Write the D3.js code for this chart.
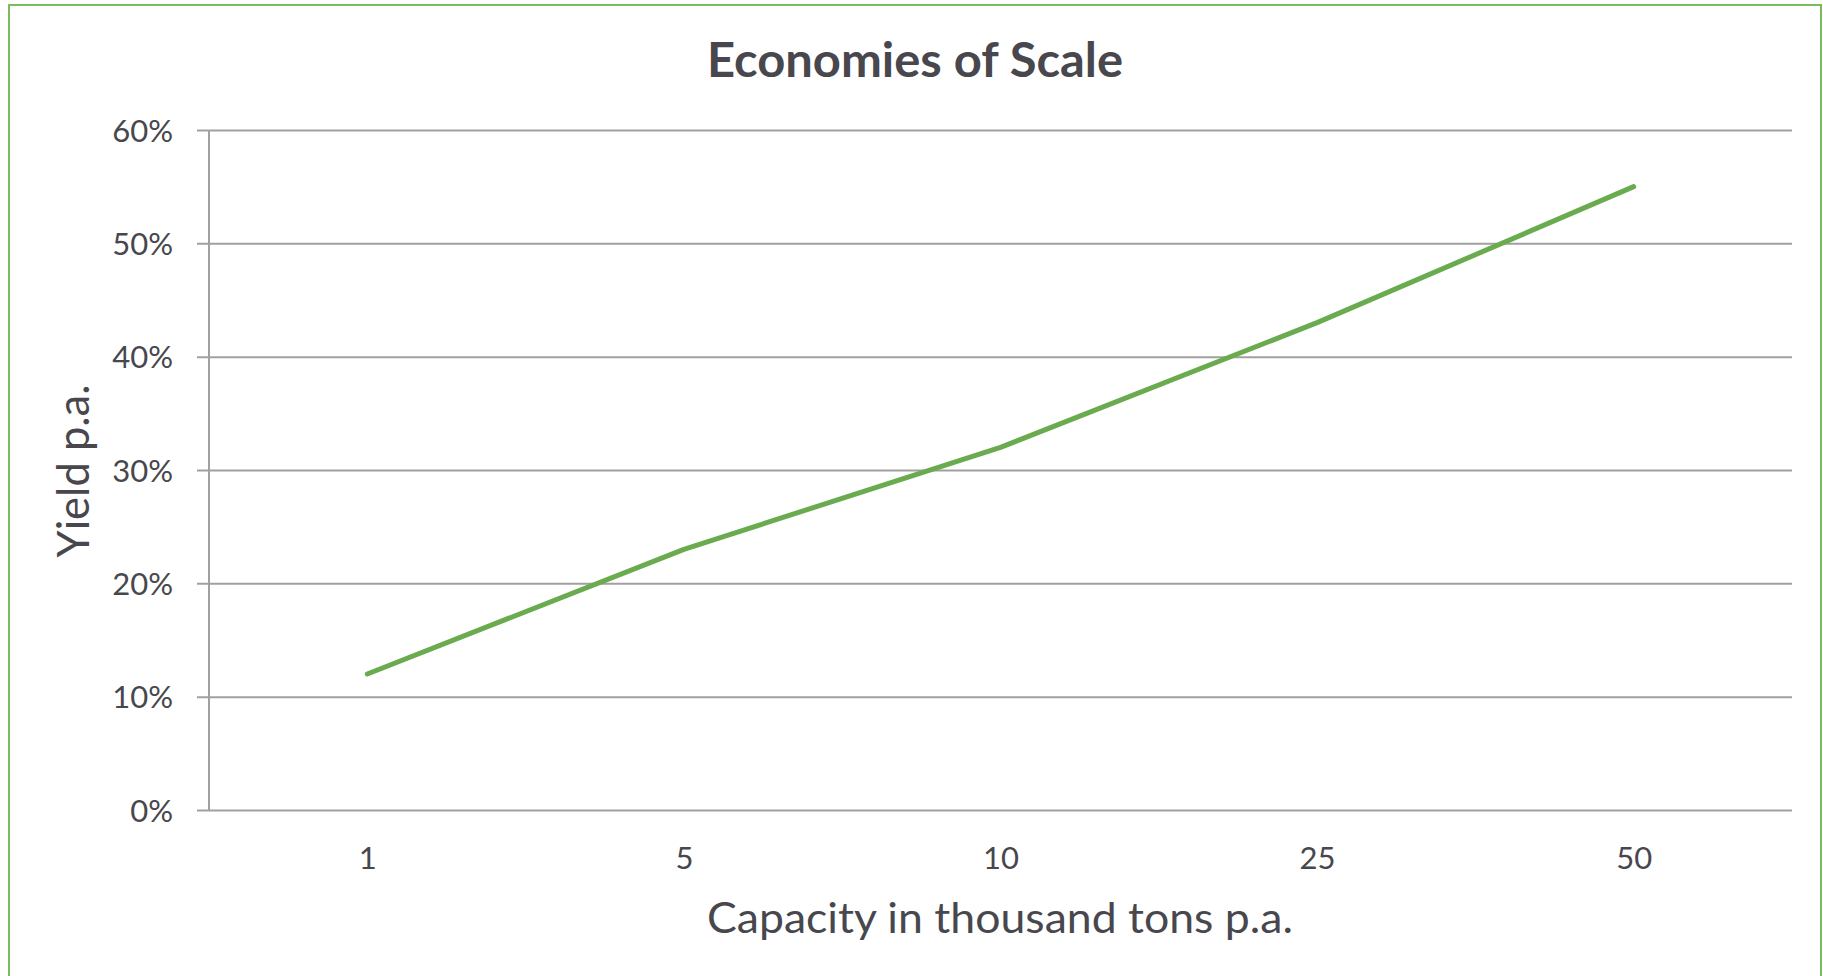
<!DOCTYPE html>
<html>
<head>
<meta charset="utf-8">
<script src="https://cdn.jsdelivr.net/npm/d3@7"></script>
<style>
  html, body { margin: 0; padding: 0; background: #ffffff; }
  svg { display: block; }
  text { font-family: Lato, "Open Sans", "Noto Sans", sans-serif; }
</style>
</head>
<body>
<svg id="chart" width="1823" height="976"></svg>
<script>
// Capacity categories (thousand tons p.a.) and the yield at each
const capacities = ["1", "5", "10", "25", "50"];
const yields = [0.12, 0.23, 0.32, 0.43, 0.55];
const yTicks = [0, 0.1, 0.2, 0.3, 0.4, 0.5, 0.6];

const W = 1823, H = 976;
const plot = { left: 209, right: 1792, top: 130, bottom: 810 };
const textColor = "#48474d";
const gridColor = "#a0a0a0";
const lineColor = "#6aab4f";

const svg = d3.select("#chart");

// outer frame of the chart area
svg.append("rect")
  .attr("x", 9).attr("y", 5)
  .attr("width", 1812).attr("height", 1000)
  .attr("fill", "#ffffff")
  .attr("stroke", "#7cbc5c")
  .attr("stroke-width", 2);

const x = d3.scalePoint()
  .domain(capacities)
  .range([plot.left, plot.right])
  .padding(0.5);

const y = d3.scaleLinear()
  .domain([0, 0.6])
  .range([plot.bottom, plot.top]);

// horizontal gridlines + y tick labels
const yAxis = d3.axisLeft(y)
  .tickValues(yTicks)
  .tickFormat(d3.format(".0%"))
  .tickSize(-(plot.right - plot.left))
  .tickPadding(36);

const gy = svg.append("g")
  .attr("transform", `translate(${plot.left},0)`)
  .call(yAxis);
gy.select(".domain").remove();
gy.selectAll(".tick line")
  .attr("x1", -12)
  .attr("stroke", gridColor)
  .attr("stroke-width", 2);
gy.selectAll(".tick text")
  .attr("fill", textColor)
  .attr("font-size", 31)
  .attr("x", -36)
  .attr("dy", "0.36em");

// vertical axis line
svg.append("line")
  .attr("x1", plot.left).attr("x2", plot.left)
  .attr("y1", y(0.6)).attr("y2", y(0))
  .attr("stroke", gridColor)
  .attr("stroke-width", 2);

// x axis category labels
const xAxis = d3.axisBottom(x).tickSize(0).tickPadding(0);
const gx = svg.append("g")
  .attr("transform", `translate(0,${plot.bottom})`)
  .call(xAxis);
gx.select(".domain").remove();
gx.selectAll(".tick text")
  .attr("fill", textColor)
  .attr("font-size", 31)
  .attr("y", 59)
  .attr("dy", 0);

// yield line
const line = d3.line()
  .x((d, i) => x(capacities[i]))
  .y(d => y(d));

svg.append("path")
  .datum(yields)
  .attr("d", line)
  .attr("fill", "none")
  .attr("stroke", lineColor)
  .attr("stroke-width", 5)
  .attr("stroke-linecap", "round")
  .attr("stroke-linejoin", "round");

// titles
svg.append("text")
  .attr("x", 915).attr("y", 77)
  .attr("text-anchor", "middle")
  .attr("font-size", 47)
  .attr("font-weight", "bold")
  .attr("fill", textColor)
  .attr("textLength", 416)
  .attr("lengthAdjust", "spacingAndGlyphs")
  .text("Economies of Scale");

svg.append("text")
  .attr("x", 1000).attr("y", 933)
  .attr("text-anchor", "middle")
  .attr("font-size", 42)
  .attr("fill", textColor)
  .attr("textLength", 586)
  .attr("lengthAdjust", "spacingAndGlyphs")
  .text("Capacity in thousand tons p.a.");

svg.append("text")
  .attr("transform", "translate(89,471) rotate(-90)")
  .attr("text-anchor", "middle")
  .attr("font-size", 44)
  .attr("fill", textColor)
  .attr("textLength", 173)
  .attr("lengthAdjust", "spacingAndGlyphs")
  .text("Yield p.a.");
</script>
</body>
</html>
